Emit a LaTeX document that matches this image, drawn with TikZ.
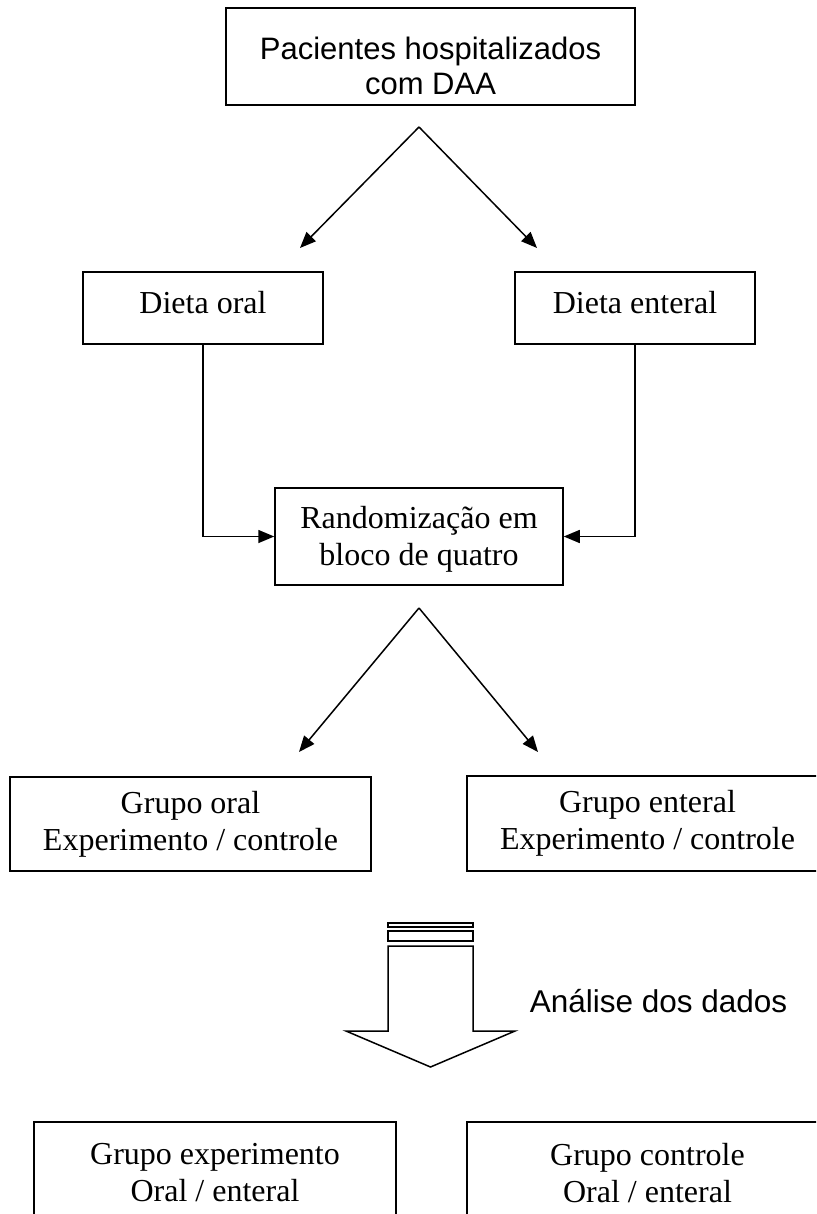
\documentclass[tikz,border=0pt]{standalone}
\usepackage{fontspec}
\setmainfont{Liberation Serif}
\newfontfamily\arialf{Liberation Sans}
\usetikzlibrary{arrows.meta}
\begin{document}
\begin{tikzpicture}[x=1pt,y=-1pt,
  line width=1.5pt,
  box/.style={draw, line width=1.5pt, inner sep=0pt, align=center,
    font=\fontsize{32pt}{37pt}\selectfont},
  conn/.style={line width=1.5pt, -{Triangle[length=16pt,width=13pt]}}
]
\useasboundingbox (0,0) rectangle (816,1214);
\clip (0,0) rectangle (816,1214);
\fill[white] (0,0) rectangle (816,1214);

% boxes
\node[box, minimum width=409pt, minimum height=97pt,
  font=\arialf\fontsize{31pt}{35pt}\selectfont] (top) at (430.5,56.5)
  {\rule{0pt}{42pt}Pacientes hospitalizados\\com DAA};
\node[box, minimum width=240pt, minimum height=72pt] (oral) at (203,308)
  {Dieta oral\rule[-12pt]{0pt}{12pt}};
\node[box, minimum width=240pt, minimum height=72pt] (enteral) at (635,308)
  {Dieta enteral\rule[-12pt]{0pt}{12pt}};
\node[box, minimum width=288pt, minimum height=97pt] (rand) at (419,536.5)
  {\rule{0pt}{27pt}Randomização em\\bloco de quatro};
\node[box, minimum width=361pt, minimum height=94pt] (goral) at (190.5,824)
  {Grupo oral\\Experimento / controle};
\node[box, minimum width=361pt, minimum height=95pt] (gent) at (647.5,823.5)
  {Grupo enteral\\Experimento / controle};
\node[box, minimum width=362pt, minimum height=102pt] (gexp) at (215,1173)
  {Grupo experimento\\Oral / enteral};
\node[box, minimum width=361pt, minimum height=102pt] (gctl) at (647.5,1173)
  {Grupo controle\\Oral / enteral};

% fork 1
\coordinate (apexA) at (419,127);
\coordinate (tipA1) at (300,248);
\coordinate (tipA2) at (537,248);
\draw[conn] (apexA) -- (tipA1);
\draw[conn] (apexA) -- (tipA2);

% to randomization
\draw[conn] (oral.south) |- (rand.west);
\draw[conn] (enteral.south) |- (rand.east);

% fork 2
\coordinate (apexB) at (419,608);
\coordinate (tipB1) at (299,752);
\coordinate (tipB2) at (538,752);
\draw[conn] (apexB) -- (tipB1);
\draw[conn] (apexB) -- (tipB2);

% block arrow
\draw[line width=1.5pt, line join=miter] (388,923) rectangle (473,927);
\draw[line width=1.5pt, line join=miter] (388,931) rectangle (473,941);
\draw[line width=1.5pt, line join=miter] (388,946) -- (388,1031) -- (346,1031)
  -- (430.5,1067) -- (515,1031) -- (473,1031) -- (473,946) -- cycle;
\node[anchor=base west, inner sep=0pt, font=\arialf\fontsize{31.5pt}{36pt}\selectfont]
  (analise) at (529,1012) {Análise dos dados};
\end{tikzpicture}
\end{document}
